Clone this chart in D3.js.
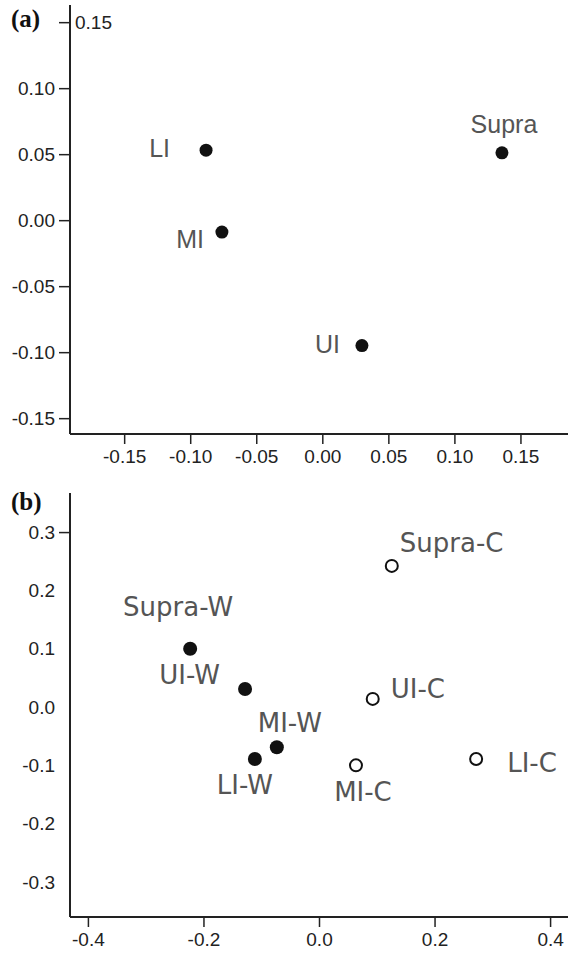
<!DOCTYPE html>
<html lang="en">
<head>
  <meta charset="UTF-8">
  <title>Ordination plots</title>
  <script src="https://d3js.org/d3.v7.min.js"></script>
  <style>
    body { margin: 0; background: #fff; }
    svg { display: block; }
    .tick text { font-family: "Liberation Sans", Arial, sans-serif; font-size: 19px; fill: #222; }
    .panel-tag { font-family: "Liberation Serif", "Times New Roman", serif; font-weight: bold; font-size: 25px; fill: #111; }
    .pt-label { fill: #555; }
  </style>
</head>
<body>
  <div id="chart"></div>
  <script>
    // panel (a)
    const namesA = ['LI', 'MI', 'Supra', 'UI'];
    const xA = [-0.088, -0.076, 0.136, 0.030];
    const yA = [0.053, -0.009, 0.051, -0.095];
    const ticksXA = [-0.15, -0.10, -0.05, 0.00, 0.05, 0.10, 0.15];
    const ticksYA = [-0.15, -0.10, -0.05, 0.00, 0.05, 0.10, 0.15];

    // panel (b)
    const namesB = ['Supra-W', 'UI-W', 'MI-W', 'LI-W', 'Supra-C', 'UI-C', 'MI-C', 'LI-C'];
    const xB = [-0.223, -0.128, -0.073, -0.111, 0.126, 0.093, 0.064, 0.272];
    const yB = [0.100, 0.031, -0.069, -0.089, 0.242, 0.014, -0.100, -0.089];
    const filledB = [true, true, true, true, false, false, false, false];
    const ticksXB = [-0.4, -0.2, 0.0, 0.2, 0.4];
    const ticksYB = [-0.3, -0.2, -0.1, 0.0, 0.1, 0.2, 0.3];

    // where each label sits relative to its point
    const labelPos = {
      'LI': ['end', -36, 7], 'MI': ['end', -18, 16], 'Supra': ['middle', 2, -20], 'UI': ['end', -22, 7],
      'Supra-W': ['middle', -12, -33], 'UI-W': ['end', -25, -5], 'MI-W': ['middle', 13, -15],
      'LI-W': ['middle', -10, 35], 'Supra-C': ['start', 8, -14], 'UI-C': ['start', 18, -1],
      'MI-C': ['middle', 7, 36], 'LI-C': ['start', 31, 13]
    };

    const W = 568, H = 953;
    const svg = d3.select('#chart').append('svg').attr('width', W).attr('height', H);
    svg.append('rect').attr('width', W).attr('height', H).attr('fill', '#fff');

    function panel(cfg) {
      const g = svg.append('g');
      const x = d3.scaleLinear().domain(cfg.xDomain).range(cfg.xRange);
      const y = d3.scaleLinear().domain(cfg.yDomain).range(cfg.yRange);

      const ax = g.append('g')
        .attr('transform', `translate(0,${cfg.yRange[0]})`)
        .call(d3.axisBottom(x).tickValues(cfg.ticksX).tickSize(10).tickPadding(6)
          .tickFormat(d => d.toFixed(cfg.digits)));
      const ay = g.append('g')
        .attr('transform', `translate(${cfg.xRange[0]},0)`)
        .call(d3.axisLeft(y).tickValues(cfg.ticksY).tickSize(11).tickPadding(4)
          .tickFormat(d => d.toFixed(cfg.digits)));
      [ax, ay].forEach(a => {
        a.select('.domain').attr('stroke', '#222').attr('stroke-width', 2);
        a.selectAll('.tick line').attr('stroke', '#222').attr('stroke-width', 1.5);
        a.selectAll('.tick text').attr('fill', '#222');
      });
      // outer ticks off so the axes are plain lines
      ax.select('.domain').attr('d', `M${cfg.xRange[0]},0H${cfg.xRange[1]}`);
      ay.select('.domain').attr('d', `M0,${cfg.yRange[0]}V${cfg.yRange[1]}`);
      if (cfg.fixY) cfg.fixY(ay);

      g.append('text').attr('class', 'panel-tag')
        .attr('x', 11).attr('y', cfg.tagY).text(cfg.tag);

      const data = cfg.names.map((n, i) => ({ n, x: cfg.xs[i], y: cfg.ys[i], f: cfg.filled ? cfg.filled[i] : true }));
      g.selectAll('circle.pt').data(data).join('circle')
        .attr('class', 'pt')
        .attr('cx', d => x(d.x)).attr('cy', d => y(d.y))
        .attr('r', d => d.f ? cfg.r : cfg.r - 1)
        .attr('fill', d => d.f ? '#111' : '#fff')
        .attr('stroke', '#111')
        .attr('stroke-width', d => d.f ? 0 : 2);
      g.selectAll('text.pt-label').data(data).join('text')
        .attr('class', 'pt-label')
        .style('font-family', cfg.labelFont)
        .style('font-size', cfg.labelSize + 'px')
        .attr('text-anchor', d => labelPos[d.n][0])
        .attr('x', d => x(d.x) + labelPos[d.n][1])
        .attr('y', d => y(d.y) + labelPos[d.n][2])
        .text(d => d.n);
    }

    panel({
      tag: '(a)', tagY: 27, digits: 2, r: 6.5, labelSize: 25,
      names: namesA, xs: xA, ys: yA,
      xDomain: [-0.191, 0.186], xRange: [70, 568],
      yDomain: [-0.162, 0.163], yRange: [434, 5],
      ticksX: ticksXA, ticksY: ticksYA,
      labelFont: '"Liberation Sans", Arial, sans-serif',
      fixY: ay => {
        // top label is written to the right of the axis
        ay.selectAll('.tick').filter(d => d === 0.15).select('text')
          .attr('x', 5).attr('text-anchor', 'start');
      }
    });

    panel({
      tag: '(b)', tagY: 510, digits: 1, r: 7, labelSize: 26,
      names: namesB, xs: xB, ys: yB, filled: filledB,
      xDomain: [-0.431, 0.431], xRange: [70, 568],
      yDomain: [-0.360, 0.367], yRange: [917, 493],
      ticksX: ticksXB, ticksY: ticksYB,
      labelFont: '"DejaVu Sans", sans-serif',
      fixY: ay => {
        // only the top tick has a mark
        ay.selectAll('.tick').filter(d => d !== 0.3).select('line').remove();
      }
    });
  </script>
</body>
</html>
